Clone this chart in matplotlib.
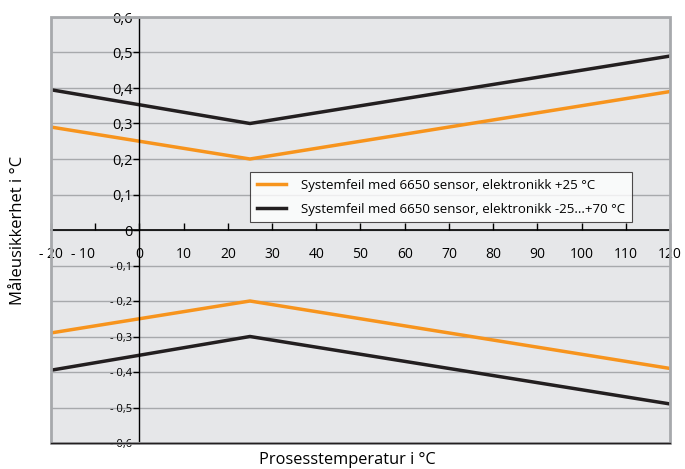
import matplotlib.pyplot as plt
from matplotlib.patches import Rectangle

plt.rcParams['font.family'] = ['Open Sans', 'DejaVu Sans']

# data
temps = [-20, 25, 120]
orange_upper = [0.29, 0.20, 0.39]
black_upper = [0.395, 0.30, 0.49]
orange_lower = [-0.29, -0.20, -0.39]
black_lower = [-0.395, -0.30, -0.49]

x_ticks = [-20, -10, 0, 10, 20, 30, 40, 50, 60, 70, 80, 90, 100, 110, 120]
y_ticks = [-0.6, -0.5, -0.4, -0.3, -0.2, -0.1, 0, 0.1, 0.2, 0.3, 0.4, 0.5, 0.6]

label_orange = "Systemfeil med 6650 sensor, elektronikk +25 °C"
label_black = "Systemfeil med 6650 sensor, elektronikk -25...+70 °C"

orange = '#f7941d'
black = '#231f20'

fig = plt.figure(figsize=(6.85, 4.69), dpi=100)
ax = fig.add_axes([51/685, 1-443/469, (670-51)/685, (443-17)/469])
ax.set_facecolor('#e6e7e9')
ax.set_xlim(-20, 120)
ax.set_ylim(-0.6, 0.6)

# gridlines
for y in y_ticks:
    ax.axhline(y, color='#a7a9ac', lw=1, zorder=1)

ax.plot(temps, orange_upper, color=orange, lw=2.5, label=label_orange, zorder=3)
ax.plot(temps, black_upper, color=black, lw=2.5, label=label_black, zorder=3)
ax.plot(temps, orange_lower, color=orange, lw=2.5, zorder=3)
ax.plot(temps, black_lower, color=black, lw=2.5, zorder=3)

# spines through origin
for s in ['top', 'right']:
    ax.spines[s].set_visible(False)
ax.spines['left'].set_position(('data', 0))
ax.spines['bottom'].set_position(('data', 0))
ax.spines['left'].set_color('black')
ax.spines['bottom'].set_color('black')
ax.spines['left'].set_linewidth(1)
ax.spines['bottom'].set_linewidth(1.2)
ax.spines['left'].set_zorder(4)
ax.spines['bottom'].set_zorder(4)

# frame
ax.add_patch(Rectangle((0, 0), 1, 1, transform=ax.transAxes, fill=False,
                       edgecolor='#a7a9ac', lw=2, zorder=5, clip_on=False))
ax.plot([0, 1], [0, 0], transform=ax.transAxes, color='#231f20', lw=1,
        zorder=6, clip_on=False)

ax.set_xticks(x_ticks)
ax.set_xticklabels([f"- {abs(v)}" if v < 0 else str(v) for v in x_ticks])
ax.tick_params(axis='x', direction='in', length=5, width=1, pad=12,
               labelsize=10, colors='black')
for lab, v in zip(ax.get_xticklabels(), x_ticks):
    if v == -10:
        lab.set_horizontalalignment('right')
ax.set_yticks(y_ticks)
ylabels = []
for v in y_ticks:
    if v == 0:
        ylabels.append("0")
    elif v < 0:
        ylabels.append("- " + f"{abs(v):.1f}".replace('.', ','))
    else:
        ylabels.append(f"{v:.1f}".replace('.', ','))
ax.set_yticklabels(ylabels)
ax.tick_params(axis='y', direction='out', length=4, width=1, pad=1,
               labelsize=10.5, colors='black')
for lab, v in zip(ax.get_yticklabels(), y_ticks):
    if v < 0:
        lab.set_fontsize(8)

leg = ax.legend(loc='upper left', bbox_to_anchor=(199/619, 1-155/426),
                frameon=True, fancybox=False, fontsize=9.5, handlelength=2.2,
                borderpad=0.5, labelspacing=0.85, handletextpad=1.2,
                borderaxespad=0)
leg.get_frame().set_edgecolor('#231f20')
leg.get_frame().set_linewidth(0.8)
leg.set_zorder(7)

fig.text(347/685, 1-460/469, "Prosesstemperatur i °C", ha='center', va='center', fontsize=11.8)
fig.text(18/685, 1-230/469, "Måleusikkerhet i °C", ha='center', va='center',
         rotation=90, fontsize=12)

fig.savefig('out.png', dpi=100)
